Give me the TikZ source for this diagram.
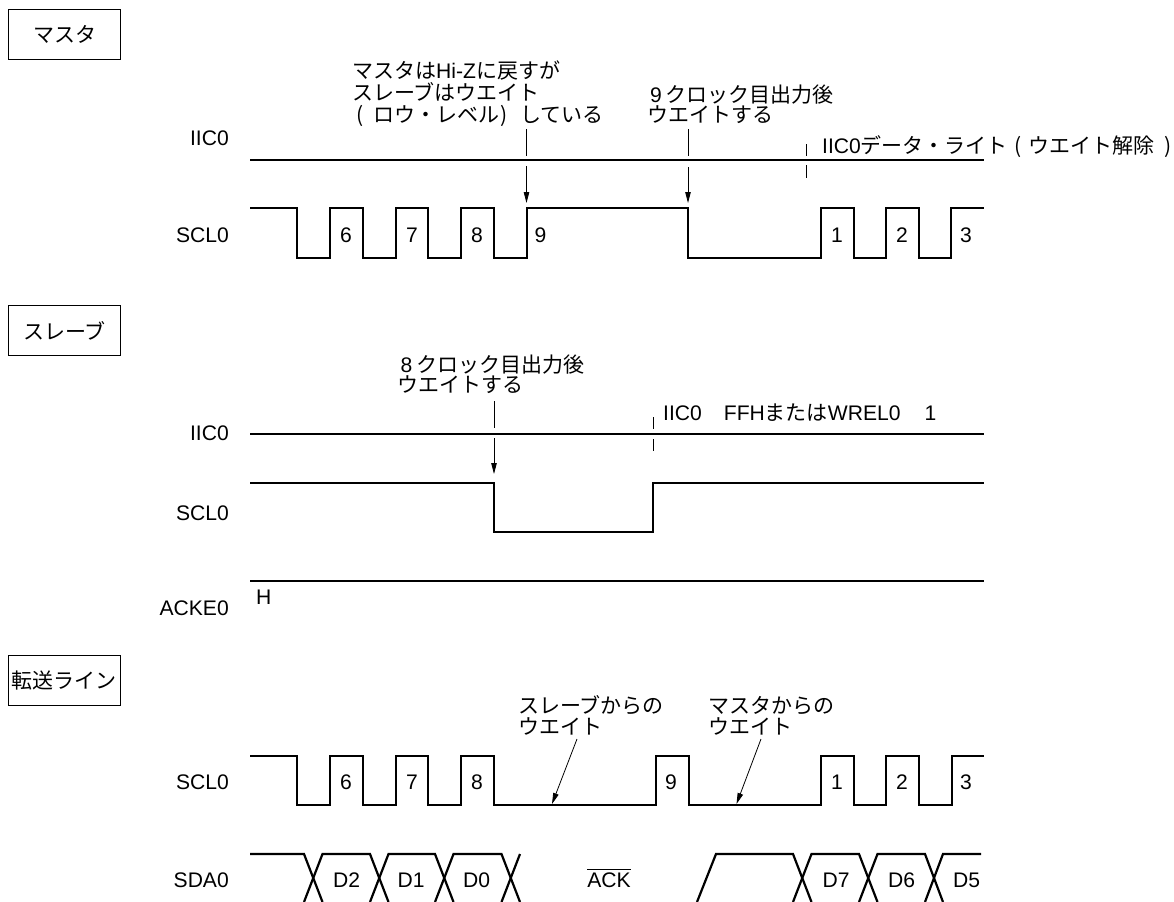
\documentclass[tikz,border=0pt]{standalone}
\usepackage{fontspec}
\usetikzlibrary{arrows.meta}
\setmainfont{Liberation Sans}
\newfontfamily\jpf{Noto Sans CJK JP}
\newcommand{\J}[1]{{\fontsize{21bp}{21bp}\selectfont\jpf #1}}
\newcommand{\Pb}[2]{\makebox[21bp][l]{\hspace{#1bp}\J{#2}}}
\newcommand{\Two}[3]{\vtop{\lineskiplimit=-100bp\baselineskip=#1bp\hbox{#2}\hbox{#3}}}
\newcommand{\Three}[4]{\vtop{\lineskiplimit=-100bp\baselineskip=#1bp\hbox{#2}\hbox{#3}\hbox{#4}}}
\tikzset{
  x=1bp,y=-1bp,
  wave/.style={line width=2.2bp,line join=miter,line cap=butt},
  rail/.style={line width=2.2bp},
  leader/.style={line width=0.8bp},
  pointer/.style={line width=0.8bp,-{Triangle[length=11bp,width=5.5bp]}},
  framebox/.style={draw,line width=0.9bp,minimum width=112bp,minimum height=49.5bp,inner sep=0pt,font=\fontsize{21bp}{21bp}\selectfont\jpf},
  txt/.style={inner sep=0pt,anchor=base west,font=\fontsize{21.1bp}{21bp}\selectfont},
  sig/.style={inner sep=0pt,anchor=base east,font=\fontsize{21.1bp}{21bp}\selectfont},
  num/.style={inner sep=0pt,anchor=base,font=\fontsize{21.1bp}{21bp}\selectfont},
}
\begin{document}
\begin{tikzpicture}
\useasboundingbox (0,0) rectangle (1174,902);
\fill[white] (0,0) rectangle (1174,902);
% frames
\node[framebox] (bm) at (64.5,34.5) {マスタ};
\node[framebox] (bs) at (64.5,330.5) {スレーブ};
\node[framebox] (bt) at (64.5,680.5) {転送ライン};
% master section
\node[sig] (m1) at (229,145) {IIC0};
\node[sig] (m2) at (229,242) {SCL0};
\draw[rail] (250,160) -- (984,160);
\draw[wave] (250,208) -| (297,258) -| (330,208) -| (363,258) -| (396,208) -| (428,258) -| (461,208) -| (494,258) -| (527,208) -| (688,258) -| (821,208) -| (854,258) -| (886,208) -| (919,258) -| (951,208) -- (984,208);
\foreach \n/\x/\t in {a/346/6,b/412/7,c/477/8,d/540.5/9,e/837/1,f/902/2,g/966/3}
  \node[num] (m\n) at (\x,242) {\t};
\node[txt] (ma) at (352,78) {\Three{22}{\J{マスタは}Hi-Z\J{に戻すが}}{\J{スレーブはウエイト}}{\Pb{4}{(}\J{ロウ・レベル}\Pb{1}{)}\J{している}}};
\node[txt] (mb) at (647,102) {\Two{20}{\hspace{3bp}9\hspace{4bp}\J{クロック目出力後}}{\J{ウエイトする}}};
\node[txt] (mc) at (822,153) {IIC0\J{データ・ライト}\Pb{7}{(}\J{ウエイト解除}\Pb{10}{)}};
\coordinate (p1a) at (526.5,129); \coordinate (p1b) at (526.5,156);
\coordinate (p1c) at (526.5,166); \coordinate (p1d) at (526.5,203);
\draw[leader] (p1a) -- (p1b); \draw[pointer] (p1c) -- (p1d);
\coordinate (p2a) at (688,129); \coordinate (p2b) at (688,156);
\coordinate (p2c) at (688,167); \coordinate (p2d) at (688,203);
\draw[leader] (p2a) -- (p2b); \draw[pointer] (p2c) -- (p2d);
\coordinate (t1a) at (806,144); \coordinate (t1b) at (806,156);
\coordinate (t1c) at (806,165); \coordinate (t1d) at (806,178);
\draw[leader] (t1a) -- (t1b); \draw[leader] (t1c) -- (t1d);
% slave section
\node[sig] (s1) at (229,440) {IIC0};
\node[sig] (s2) at (229,520) {SCL0};
\node[sig] (s3) at (229,615) {ACKE0};
\draw[rail] (250,434) -- (984,434);
\draw[wave] (250,483) -| (494,532) -| (653,483) -- (984,483);
\draw[rail] (250,581) -- (984,581);
\node[txt] (sh) at (256,604) {H};
\node[txt] (sa) at (397,372) {\Two{20}{\hspace{3.5bp}8\hspace{4bp}\J{クロック目出力後}}{\J{ウエイトする}}};
\node[txt] (sb) at (663,420) {IIC0\hspace{22bp}FFH\J{または}WREL0\hspace{24bp}1};
\coordinate (p3a) at (494,401); \coordinate (p3b) at (494,428);
\coordinate (p3c) at (494,438); \coordinate (p3d) at (494,474);
\draw[leader] (p3a) -- (p3b); \draw[pointer] (p3c) -- (p3d);
\coordinate (t2a) at (653,417); \coordinate (t2b) at (653,429);
\coordinate (t2c) at (653,439); \coordinate (t2d) at (653,451);
\draw[leader] (t2a) -- (t2b); \draw[leader] (t2c) -- (t2d);
% transfer section
\node[sig] (t1) at (229,789) {SCL0};
\node[sig] (t2) at (229,887) {SDA0};
\draw[wave] (250,756) -| (297,805) -| (330,756) -| (363,805) -| (396,756) -| (428,805) -| (461,756) -| (494,805) -| (656,756) -| (689,805) -| (821,756) -| (854,805) -| (886,756) -| (919,805) -| (952,756) -- (984,756);
\foreach \n/\x/\t in {a/346/6,b/412/7,c/477/8,d/671/9,e/837/1,f/902/2,g/966/3}
  \node[num] (t\n) at (\x,789) {\t};
\node[txt] (ta) at (518,713) {\Two{21}{\J{スレーブからの}}{\J{ウエイト}}};
\node[txt] (tb) at (708,713) {\Two{21}{\J{マスタからの}}{\J{ウエイト}}};
\coordinate (p4a) at (577,739); \coordinate (p4b) at (552,804);
\coordinate (p5a) at (761,739); \coordinate (p5b) at (736.5,804);
\draw[pointer] (p4a) -- (p4b); \draw[pointer] (p5a) -- (p5b);
% SDA0
\draw[wave] (250,854) -- (304,854) -- (322.5,902);
\draw[wave] (304,902) -- (322.5,854) -- (370,854) -- (388.5,902);
\draw[wave] (370,902) -- (388.5,854) -- (435,854) -- (453.5,902);
\draw[wave] (435,902) -- (453.5,854) -- (501.5,854) -- (520,902);
\draw[wave] (501.5,902) -- (520,854);
\draw[wave] (697,902) -- (716,854) -- (793,854) -- (811.5,902);
\draw[wave] (793,902) -- (811.5,854) -- (859,854) -- (877.5,902);
\draw[wave] (859,902) -- (877.5,854) -- (925,854) -- (943,902);
\draw[wave] (925,902) -- (943,854) -- (981,854);
\foreach \n/\x/\t in {a/346.5/D2,b/411/D1,c/476.5/D0,d/836/D7,e/901.5/D6,f/966.5/D5}
  \node[num] (d\n) at (\x,887) {\t};
\node[num] (ack) at (609,887) {\vbox{\hrule height 0.8bp\kern2.5bp\hbox{ACK}}};
\end{tikzpicture}
\end{document}
